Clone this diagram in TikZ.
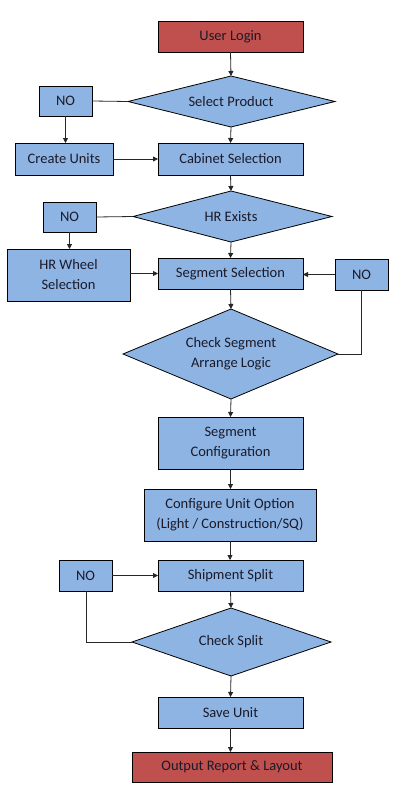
\documentclass[tikz,border=0pt]{standalone}
\usepackage{fontspec}
\setmainfont{Carlito}
\usetikzlibrary{arrows.meta}
\definecolor{boxblue}{HTML}{8EB4E3}
\definecolor{boxred}{HTML}{C0504D}
\definecolor{txt}{HTML}{1A1A2A}
\begin{document}
\begin{tikzpicture}[x=1pt,y=-1pt,
  base/.style={draw=black,line width=0.8pt,text=txt,font=\fontsize{14.5}{20}\selectfont,align=center,inner sep=0pt,outer sep=0pt},
  bluebox/.style={base,fill=boxblue},
  redbox/.style={base,fill=boxred},
  lbl/.style={base,fill=none,draw=none},
  diashape/.style={draw=black,line width=0.8pt,fill=boxblue},
  conn/.style={line width=0.8pt,draw=black!85},
  arr/.style={conn,-{Triangle[width=5pt,length=5pt]}}]
\useasboundingbox (0,0) rectangle (402,800);
\newcommand{\bx}[6]{\node[#1,minimum width=#4-#2,minimum height=#5-#3] (#6) at ({(#2+#4)/2},{(#3+#5)/2})}

\bx{redbox}{158}{21}{303}{52}{login} {User Login};
\coordinate (sp-l) at (128,101.5); \coordinate (sp-t) at (231,76); \coordinate (sp-b) at (231,127);
\path[diashape] (sp-l) -- (sp-t) -- (335,101.5) -- (sp-b) -- cycle;
\node[lbl] (sp) at (231,101.5) {Select Product};
\bx{bluebox}{39}{86}{92}{116}{no1} {NO};
\bx{bluebox}{15}{143}{113}{175}{cu} {Create Units};
\bx{bluebox}{158}{143}{303}{175}{cab} {Cabinet Selection};

\coordinate (hr-l) at (133,216.5); \coordinate (hr-t) at (231,191); \coordinate (hr-b) at (231,242);
\path[diashape] (hr-l) -- (hr-t) -- (332,216.5) -- (hr-b) -- cycle;
\node[lbl] (hr) at (231,216.5) {HR Exists};
\bx{bluebox}{43}{202}{96}{232}{no2} {NO};
\bx{bluebox}{7}{249}{130}{301}{hrw} {HR Wheel\\Selection};
\bx{bluebox}{158}{258}{303}{289}{seg} {Segment Selection};
\bx{bluebox}{335}{259}{388}{290}{no3} {NO};

\coordinate (cs-l) at (123,354); \coordinate (cs-t) at (231,309); \coordinate (cs-r) at (338,354); \coordinate (cs-b) at (231,399);
\path[diashape] (cs-l) -- (cs-t) -- (cs-r) -- (cs-b) -- cycle;
\node[lbl] (cs) at (231,354) {Check Segment\\Arrange Logic};

\bx{bluebox}{158}{417}{303}{469}{sc} {Segment\\Configuration};
\bx{bluebox}{144}{489}{316}{541}{cuo} {Configure Unit Option\\(Light / Construction/SQ)};
\bx{bluebox}{158}{560}{303}{591}{ship} {Shipment Split};
\bx{bluebox}{59}{560}{112}{591}{no4} {NO};

\coordinate (ck-l) at (132,642); \coordinate (ck-t) at (231,608); \coordinate (ck-b) at (231,676);
\path[diashape] (ck-l) -- (ck-t) -- (331,642) -- (ck-b) -- cycle;
\node[lbl] (ck) at (231,642) {Check Split};
\coordinate (no4turn) at (86,642);

\bx{bluebox}{158}{697}{303}{728}{save} {Save Unit};
\bx{redbox}{132}{752}{332}{782}{out} {Output Report \& Layout};

% connectors
\draw[arr] (login.south) -- (sp-t);
\draw[conn] (no1.east) -- (sp-l);
\draw[arr] (no1.south) -- (no1.south |- cu.north);
\draw[arr] (sp-b) -- (cab.north);
\draw[arr] (cu.east) -- (cab.west);
\draw[arr] (cab.south) -- (hr-t);
\draw[conn] (no2.east) -- (hr-l);
\draw[arr] (no2.south) -- (no2.south |- hrw.north);
\draw[arr] (hr-b) -- (seg.north);
\draw[arr] (hrw.east |- seg.west) -- (seg.west);
\draw[arr] (no3.west) -- (seg.east |- no3.west);
\draw[conn] (no3.south) |- (cs-r);
\draw[arr] (seg.south) -- (cs-t);
\draw[arr] (cs-b) -- (sc.north);
\draw[arr] (sc.south) -- (sc.south |- cuo.north);
\draw[arr] (cuo.south) -- (cuo.south |- ship.north);
\draw[arr] (no4.east) -- (ship.west);
\draw[arr] (ship.south) -- (ck-t);
\draw[conn] (ck-l) -- (no4turn) -- (no4turn |- no4.south);
\draw[arr] (ck-b) -- (save.north);
\draw[arr] (save.south) -- (save.south |- out.north);
\end{tikzpicture}
\end{document}
